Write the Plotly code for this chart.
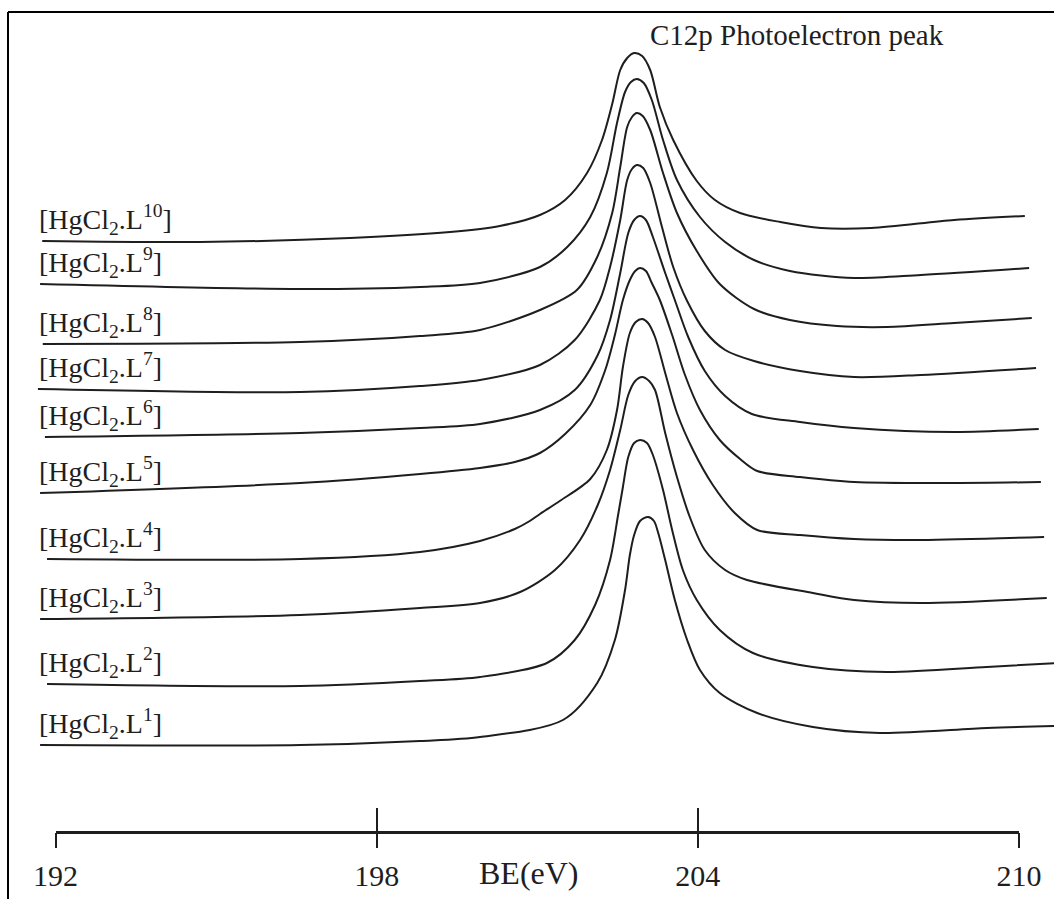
import plotly.graph_objects as go

# ---------------- data ----------------
# binding energy (eV) and stacked, offset intensity (arbitrary units)
be_1 = [191.71, 196.57, 198.81, 199.93, 201.48, 202.12, 202.45, 202.64, 202.73, 202.81, 202.92, 203.07, 203.18, 203.26, 203.39, 203.57, 203.80, 204.04, 204.41, 205.11, 206.15, 207.40, 209.40, 210.70]
in_1 = [154, 154, 158, 162, 179, 216, 259, 309, 344, 364, 378, 382, 378, 366, 339, 299, 259, 229, 206, 186, 172, 166, 171, 173]

be_2 = [191.84, 196.57, 198.81, 199.93, 201.18, 201.70, 202.08, 202.36, 202.51, 202.60, 202.70, 202.81, 202.92, 203.05, 203.16, 203.35, 203.52, 203.72, 203.98, 204.41, 205.03, 206.15, 207.53, 209.40, 210.70]
in_2 = [215, 213, 218, 222, 236, 259, 294, 339, 384, 412, 442, 456, 459, 456, 444, 409, 369, 329, 299, 269, 246, 232, 227, 232, 236]

be_3 = [191.71, 196.57, 198.81, 199.93, 200.68, 201.33, 201.80, 202.13, 202.36, 202.55, 202.70, 202.83, 202.96, 203.09, 203.20, 203.39, 203.61, 203.85, 204.13, 204.51, 204.92, 206.15, 206.92, 208.17, 210.52]
in_3 = [280, 284, 291, 296, 307, 329, 359, 394, 429, 469, 504, 518, 522, 518, 509, 466, 422, 382, 349, 329, 319, 306, 299, 296, 301]

be_4 = [191.84, 196.57, 198.81, 199.93, 200.58, 200.86, 201.05, 201.42, 201.99, 202.30, 202.49, 202.60, 202.73, 202.84, 202.96, 203.07, 203.20, 203.39, 203.61, 203.91, 204.28, 204.69, 205.11, 205.91, 206.92, 208.17, 210.47]
in_4 = [340, 340, 347, 358, 370, 378, 385, 398, 420, 449, 489, 532, 566, 577, 580, 576, 562, 526, 486, 449, 414, 386, 369, 364, 360, 359, 362]

be_5 = [191.71, 196.57, 198.81, 199.93, 200.58, 201.05, 201.52, 201.99, 202.27, 202.45, 202.60, 202.73, 202.83, 202.92, 203.03, 203.14, 203.29, 203.52, 203.76, 204.04, 204.41, 204.79, 205.11, 205.91, 206.92, 208.79, 210.41]
in_5 = [406, 416, 425, 431, 437, 446, 465, 494, 529, 564, 599, 619, 628, 631, 628, 616, 599, 564, 524, 489, 459, 440, 428, 422, 417, 416, 417]

be_6 = [191.80, 196.57, 198.81, 199.93, 201.05, 201.70, 202.13, 202.36, 202.55, 202.70, 202.81, 202.92, 203.03, 203.16, 203.39, 203.57, 203.82, 204.13, 204.51, 205.01, 205.91, 206.92, 208.79, 210.37]
in_6 = [462, 466, 471, 475, 489, 509, 544, 579, 626, 666, 679, 683, 679, 662, 626, 599, 562, 528, 503, 485, 477, 471, 467, 470]

be_7 = [191.67, 196.57, 198.81, 199.93, 201.05, 201.70, 202.17, 202.36, 202.55, 202.68, 202.77, 202.86, 202.98, 203.11, 203.33, 203.54, 203.80, 204.13, 204.51, 205.05, 205.91, 206.92, 208.17, 210.32]
in_7 = [510, 507, 513, 519, 534, 559, 599, 632, 679, 719, 730, 734, 731, 716, 672, 632, 598, 568, 549, 538, 528, 522, 524, 531]

be_8 = [191.76, 196.57, 198.81, 199.93, 201.05, 201.74, 202.12, 202.40, 202.55, 202.68, 202.77, 202.86, 202.97, 203.11, 203.35, 203.61, 203.98, 204.41, 205.05, 205.72, 206.60, 207.53, 208.79, 210.24]
in_8 = [555, 557, 563, 569, 589, 609, 642, 686, 732, 772, 782, 786, 783, 769, 726, 686, 648, 615, 590, 579, 573, 572, 576, 581]

be_9 = [191.71, 196.57, 198.81, 199.93, 201.05, 201.56, 201.99, 202.30, 202.49, 202.64, 202.75, 202.86, 202.99, 203.14, 203.35, 203.61, 204.04, 204.51, 205.05, 205.72, 206.92, 208.17, 210.19]
in_9 = [615, 610, 612, 616, 632, 652, 682, 726, 776, 807, 817, 820, 816, 799, 759, 719, 682, 657, 639, 628, 621, 624, 631]

be_10 = [191.75, 194.70, 197.50, 199.37, 200.30, 201.05, 201.52, 201.93, 202.21, 202.40, 202.55, 202.68, 202.81, 202.96, 203.11, 203.29, 203.54, 203.98, 204.32, 204.79, 205.54, 206.30, 207.24, 208.79, 210.11]
in_10 = [658, 657, 661, 667, 673, 684, 699, 726, 759, 795, 829, 841, 846, 843, 829, 792, 759, 718, 699, 686, 677, 671, 671, 679, 683]

series_be = [be_1, be_2, be_3, be_4, be_5, be_6, be_7, be_8, be_9, be_10]
series_in = [in_1, in_2, in_3, in_4, in_5, in_6, in_7, in_8, in_9, in_10]
series_sup = ["1", "2", "3", "4", "5", "6", "7", "8", "9", "10"]

tick_vals = [192, 198, 204, 210]
tick_text = ["192", "198", "204", "210"]
axis_title = "BE(eV)"
peak_title = "C12p Photoelectron peak"

# ---------------- figure ----------------
W, H = 1054, 899
INK = "#1e1e1e"
SERIF = "Liberation Serif, Times New Roman, serif"

fig = go.Figure()

for be, inten, sup in zip(series_be, series_in, series_sup):
    fig.add_trace(go.Scatter(
        x=be, y=inten, mode="lines",
        line=dict(color=INK, width=2, shape="spline", smoothing=0.85),
        name=f"HgCl2.L{sup}", showlegend=False, hoverinfo="skip",
        xaxis="x", yaxis="y",
    ))
    # label sits just above the left end of its trace
    fig.add_annotation(
        x=191.66, y=inten[0] + 22, xref="x", yref="y",
        text=f"[HgCl<sub>2</sub>.L<sup>{sup}</sup>]",
        showarrow=False, xanchor="left", yanchor="middle",
        font=dict(family=SERIF, size=28, color=INK),
    )

# helper traces so the separate scale axes are drawn
for ax in ("x2", "x3"):
    fig.add_trace(go.Scatter(x=tick_vals, y=[None] * len(tick_vals), xaxis=ax, yaxis="y",
                             mode="markers", showlegend=False, hoverinfo="skip"))

axis_pos = 1 - 831.5 / H
dom0, dom1 = 55.6 / W, 1019.0 / W

fig.update_layout(
    template="none",
    width=W, height=H,
    margin=dict(l=0, r=0, t=0, b=0, pad=0, autoexpand=False),
    paper_bgcolor="white", plot_bgcolor="rgba(0,0,0,0)",
    showlegend=False,
    xaxis=dict(range=[190.961, 210.655], domain=[0, 1], visible=False, fixedrange=True,
               automargin=False),
    yaxis=dict(range=[0, H], domain=[0, 1], visible=False, fixedrange=True,
               automargin=False),
    xaxis2=dict(range=[192, 210], domain=[dom0, dom1], anchor="free", position=axis_pos,
                showline=True, linecolor=INK, linewidth=2.5,
                ticks="outside", ticklen=15, tickwidth=1.5, tickcolor=INK,
                tickvals=tick_vals, ticktext=tick_text, ticklabelstandoff=2,
                tickfont=dict(family=SERIF, size=30, color=INK),
                showgrid=False, zeroline=False, fixedrange=True, automargin=False),
    xaxis3=dict(range=[192, 210], domain=[dom0, dom1], anchor="free", position=axis_pos,
                overlaying="x2", showline=False,
                ticks="inside", ticklen=24, tickwidth=1.5, tickcolor=INK,
                tickvals=tick_vals, showticklabels=False,
                showgrid=False, zeroline=False, fixedrange=True, automargin=False),
)

fig.add_annotation(x=200.85, y=1 - 873 / H, xref="x", yref="paper", text=axis_title,
                   showarrow=False, xanchor="center", yanchor="middle",
                   font=dict(family=SERIF, size=32, color=INK))
fig.add_annotation(x=203.07, y=1 - 35 / H, xref="x", yref="paper", text=peak_title,
                   showarrow=False, xanchor="left", yanchor="middle",
                   font=dict(family=SERIF, size=29, color=INK))

# page frame (left and top rules of the scanned figure)
fig.add_shape(type="line", xref="paper", yref="paper", x0=8 / W, x1=8 / W, y0=0, y1=1 - 12 / H,
              line=dict(color="black", width=2))
fig.add_shape(type="line", xref="paper", yref="paper", x0=8 / W, x1=1, y0=1 - 12 / H, y1=1 - 12 / H,
              line=dict(color="black", width=2))

fig.write_html("out.html")
